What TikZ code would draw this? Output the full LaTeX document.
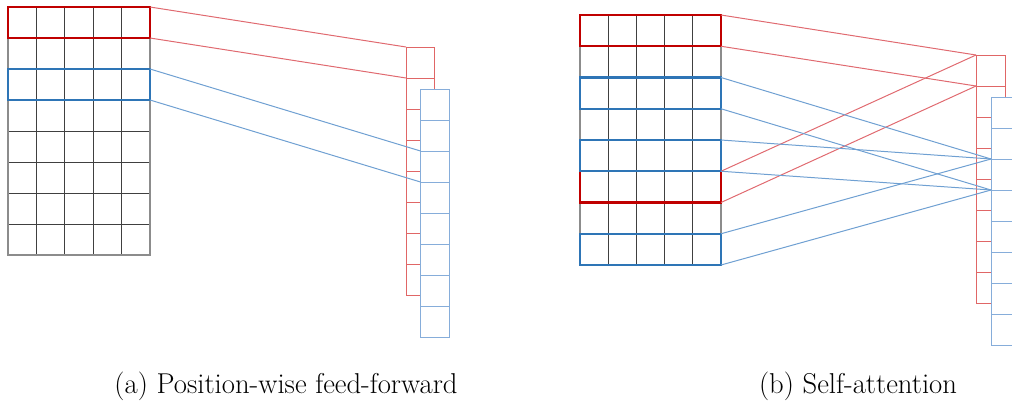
\documentclass[tikz,border=0pt]{standalone}
\usetikzlibrary{calc}
\definecolor{gridline}{HTML}{404040}
\definecolor{gridborder}{HTML}{8C8C8C}
\definecolor{boxred}{HTML}{C00000}
\definecolor{boxblue}{HTML}{2E75B6}
\definecolor{linkred}{HTML}{E06A70}
\definecolor{linkblue}{HTML}{6FA0D2}
\definecolor{vecred}{HTML}{E06666}
\definecolor{vecblue}{HTML}{86ADDA}
\tikzset{
  rowbox/.style={draw, line width=2.2pt, inner sep=0pt, outer sep=0pt, anchor=north west},
  redbox/.style={rowbox, draw=boxred},
  bluebox/.style={rowbox, draw=boxblue},
  vcell/.style={draw, line width=1pt, inner sep=0pt, outer sep=0pt, anchor=north west},
  redcell/.style={vcell, draw=vecred},
  bluecell/.style={vcell, draw=vecblue, fill=white},
  redlink/.style={draw=linkred, line width=1pt},
  bluelink/.style={draw=linkblue, line width=1pt},
  caption/.style={font=\fontsize{28.7}{34}\selectfont, inner sep=0pt, anchor=base}
}
\begin{document}
\begin{tikzpicture}[x=1pt, y=-1pt]
\useasboundingbox (0,0) rectangle (1012,400);
\clip (0,0) rectangle (1012,400);

% ---------- panel (a) grid ----------
\foreach \i in {1,...,4} \draw[gridline, line width=1pt] ({8+28.4*\i},7) -- ({8+28.4*\i},255);
\foreach \j in {1,...,7} \draw[gridline, line width=1pt] (8,{7+31*\j}) -- (150,{7+31*\j});
\draw[gridborder, line width=1.4pt] (8,7) rectangle (150,255);
\node[redbox, minimum width=142pt, minimum height=31pt] (ra0) at (8,7) {};
\node[bluebox, minimum width=142pt, minimum height=31pt] (ba2) at (8,69) {};

% vectors (a)
\foreach \k in {0,...,7}
  \node[redcell, minimum width=28pt, minimum height=31pt] (arv\k) at (406,{47+31*\k}) {};
\foreach \k in {0,...,7}
  \node[bluecell, minimum width=28.5pt, minimum height=31pt] (abv\k) at (420.5,{89+31*\k}) {};

% links (a)
\draw[redlink] (ra0.north east) -- (arv0.north west);
\draw[redlink] (ra0.south east) -- (arv0.south west);
\draw[bluelink] (ba2.north east) -- (abv2.north west);
\draw[bluelink] (ba2.south east) -- (abv2.south west);

% ---------- panel (b) grid ----------
\foreach \i in {1,...,4} \draw[gridline, line width=1pt] ({580+28.2*\i},15) -- ({580+28.2*\i},265);
\foreach \j in {1,...,7} \draw[gridline, line width=1pt] (580,{15+31.25*\j}) -- (721,{15+31.25*\j});
\draw[gridborder, line width=1.4pt] (580,15) rectangle (721,265);
\node[redbox, minimum width=141pt, minimum height=31.25pt] (rb0) at (580,15) {};
\node[redbox, minimum width=141pt, minimum height=31.25pt] (rb5) at (580,171.25) {};
\node[bluebox, minimum width=141pt, minimum height=31.25pt] (bb2) at (580,77.5) {};
\node[bluebox, minimum width=141pt, minimum height=31.25pt] (bb4) at (580,140) {};
\node[bluebox, minimum width=141pt, minimum height=31.25pt] (bb7) at (580,233.75) {};

% vectors (b)
\foreach \k in {0,...,7}
  \node[redcell, minimum width=29pt, minimum height=31pt] (brv\k) at (976,{55+31*\k}) {};
\foreach \k in {0,...,7}
  \node[bluecell, minimum width=28.5pt, minimum height=31pt] (bbv\k) at (991,{97+31*\k}) {};

% links (b)
\draw[redlink] (rb0.north east) -- (brv0.north west);
\draw[redlink] (rb0.south east) -- (brv0.south west);
\draw[redlink] (rb5.north east) -- (brv0.north west);
\draw[redlink] (rb5.south east) -- (brv0.south west);
\foreach \b in {bb2,bb4,bb7} {
  \draw[bluelink] (\b.north east) -- (bbv2.north west);
  \draw[bluelink] (\b.south east) -- (bbv2.south west);
}

% captions
\node[caption] (capa) at (286,393) {(a) Position-wise feed-forward};
\node[caption] (capb) at (858,393) {(b) Self-attention};
\end{tikzpicture}
\end{document}
